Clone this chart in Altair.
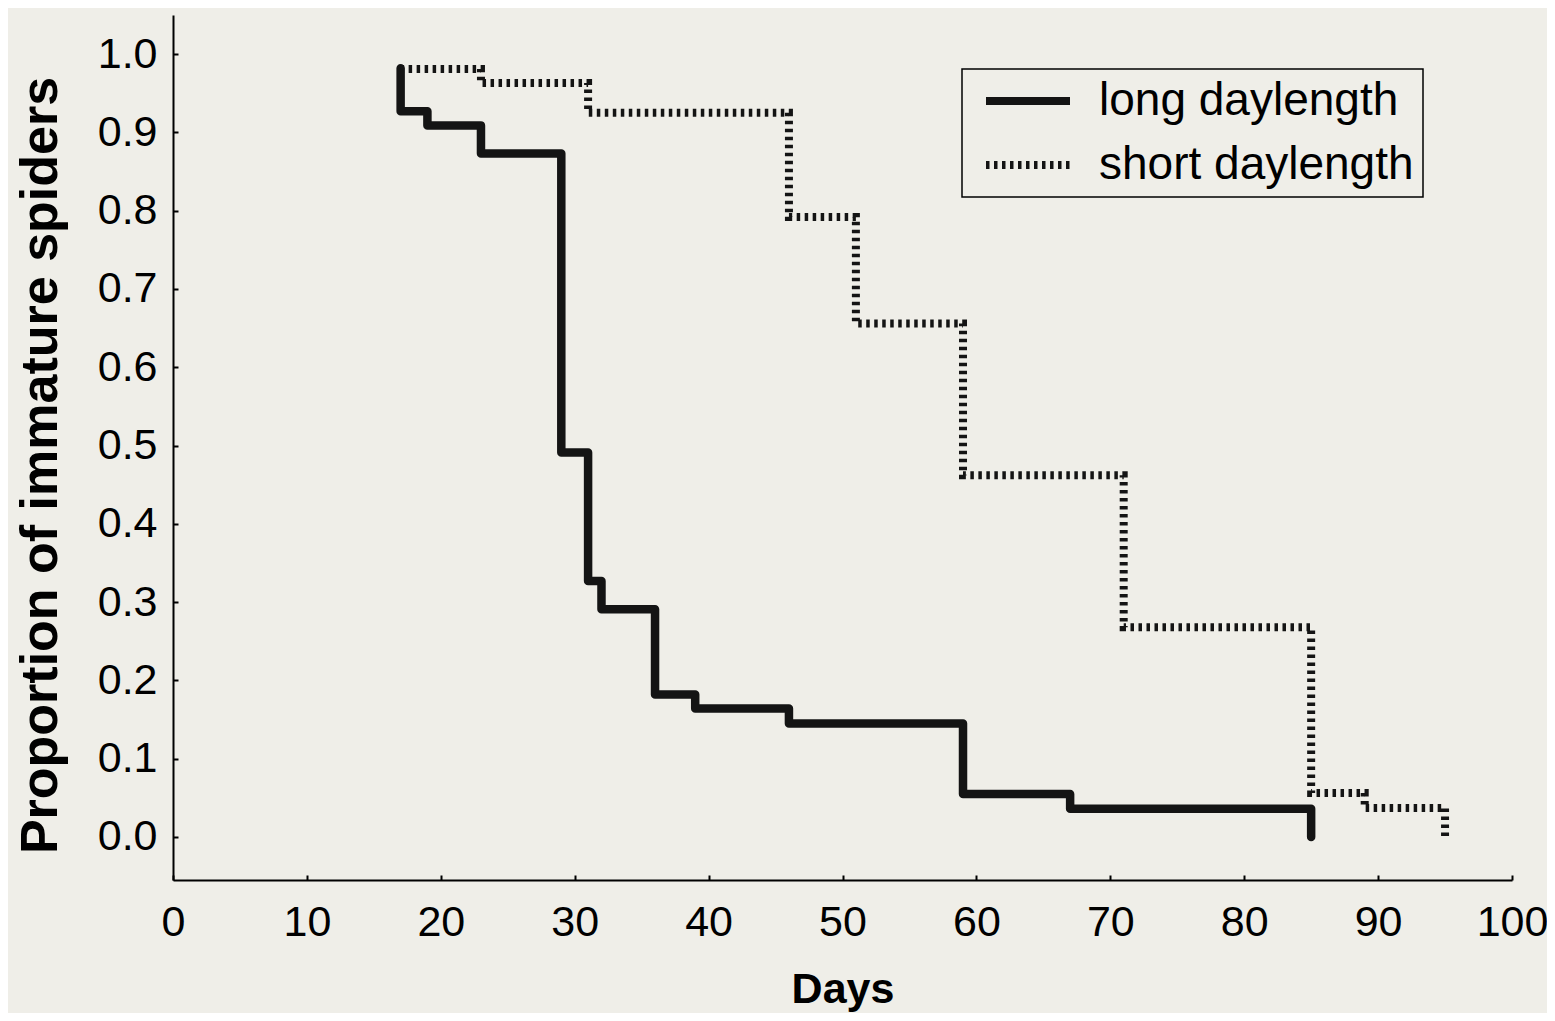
import altair as alt
import pandas as pd

groups = ["long daylength", "short daylength"]

long_days = [17, 17, 19, 23, 29, 31, 32, 36, 39, 46, 59, 67, 85]
long_prop = [0.982, 0.927, 0.909, 0.873, 0.491, 0.327, 0.291, 0.182, 0.164, 0.145, 0.055, 0.036, 0.0]

short_days = [17, 23, 31, 46, 51, 59, 71, 85, 89, 95]
short_prop = [0.981, 0.963, 0.925, 0.792, 0.656, 0.462, 0.268, 0.056, 0.037, 0.0]

x_ticks = [0, 10, 20, 30, 40, 50, 60, 70, 80, 90, 100]
y_ticks = [0.0, 0.1, 0.2, 0.3, 0.4, 0.5, 0.6, 0.7, 0.8, 0.9, 1.0]

rows = []
for i, (d, p) in enumerate(zip(long_days, long_prop)):
    rows.append({"group": groups[0], "day": d, "prop": p, "idx": i})
for i, (d, p) in enumerate(zip(short_days, short_prop)):
    rows.append({"group": groups[1], "day": d, "prop": p, "idx": i})
df = pd.DataFrame(rows)

INK = "#141414"

base = alt.Chart(df).encode(
    x=alt.X("day:Q",
            scale=alt.Scale(domain=[0, 100], nice=False, zero=False),
            axis=alt.Axis(values=x_ticks, title="Days", labelPadding=21,
                          titleFontSize=43, titlePadding=24, labelFlush=False,
                          gridDash=[0, 860, 5, 3000])),
    y=alt.Y("prop:Q",
            scale=alt.Scale(domain=[-0.055, 1.05], nice=False, zero=False),
            axis=alt.Axis(values=y_ticks, format=".1f",
                          title="Proportion of immature spiders",
                          labelPadding=16, titleFontSize=52, titlePadding=30,
                          titleY=450, gridDash=[5, 3000])),
    strokeDash=alt.StrokeDash(
        "group:N",
        scale=alt.Scale(domain=groups, range=[[1, 0], [3.5, 4.5]]),
        legend=alt.Legend(title=None, orient="none", legendX=789, legendY=54,
                          symbolType="M-3,0H3", symbolSize=784,
                          symbolStrokeWidth=8, symbolOffset=34,
                          symbolStrokeColor=INK, labelOffset=48,
                          labelFontSize=46, labelColor="black", labelLimit=600,
                          rowPadding=18, padding=9, strokeColor="black"),
    ),
    order=alt.Order("idx:Q"),
)

solid = base.transform_filter(alt.datum.group == groups[0]).mark_line(
    interpolate="step-after", color=INK, strokeWidth=8.5,
    strokeCap="round", strokeJoin="round")

dotted = base.transform_filter(alt.datum.group == groups[1]).mark_line(
    interpolate="step-after", color=INK, strokeWidth=8,
    strokeCap="butt", strokeJoin="miter")

chart = alt.layer(solid, dotted).properties(
    width=1339, height=865,
    autosize=alt.AutoSizeParams(type="none"),
    padding={"left": 165, "top": 7, "right": 35, "bottom": 133},
    background="#efeee8",
).configure_view(stroke=None).configure_axis(
    domainColor="black", domainWidth=2,
    ticks=False, tickSize=0,
    grid=True, gridColor="black", gridWidth=2, gridOpacity=1,
    labelColor="black", labelFontSize=43, labelFont="Liberation Sans",
    titleColor="black", titleFont="Liberation Sans", titleFontWeight="bold",
).configure_legend(strokeWidth=1.5, labelFont="Liberation Sans")

chart.save("out.html", embed_options={"renderer": "svg", "actions": False})
